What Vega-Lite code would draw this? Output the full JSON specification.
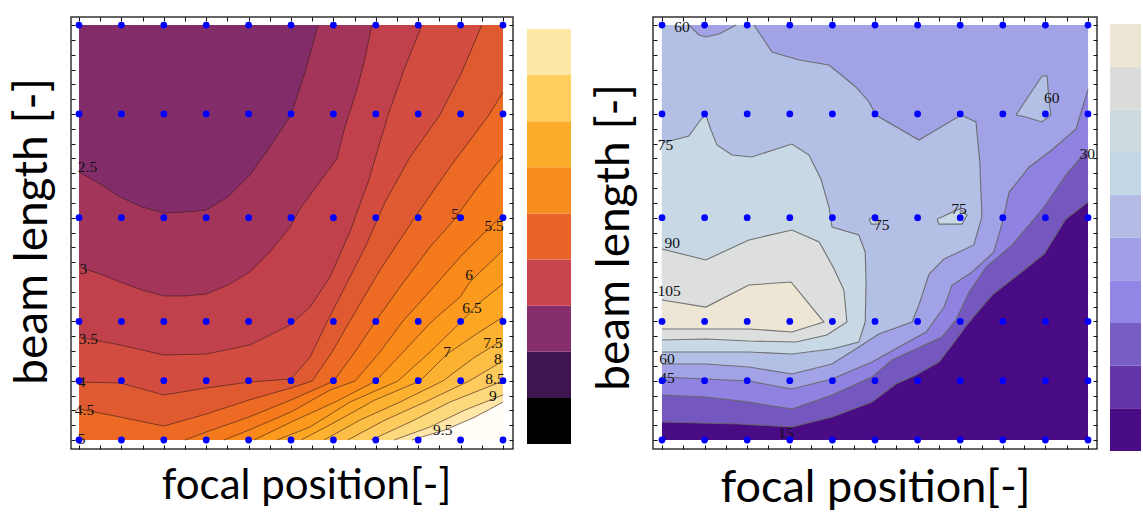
{
"$schema": "https://vega.github.io/schema/vega-lite/v6.json",
"padding": {"left": 8, "top": 15, "right": 0, "bottom": 0},
"resolve": {"scale": {"fill": "independent", "color": "independent"}},
"config": {
  "view": {"stroke": "#333", "strokeWidth": 1.5},
  "axis": {"domain": false, "labels": false, "grid": false, "ticks": true, "tickColor": "#111", "tickSize": 4, "tickWidth": 1, "offset": -4, "minExtent": 0, "maxExtent": 4, "titleFont": "Lato", "titleFontSize": 44, "titleFontWeight": "normal", "titleColor": "#000"}
},
"datasets": {
  "dots": [
    {"x":0,"y":0},{"x":1,"y":0},{"x":2,"y":0},{"x":3,"y":0},{"x":4,"y":0},{"x":5,"y":0},{"x":6,"y":0},{"x":7,"y":0},{"x":8,"y":0},{"x":9,"y":0},{"x":10,"y":0},
    {"x":0,"y":4},{"x":1,"y":4},{"x":2,"y":4},{"x":3,"y":4},{"x":4,"y":4},{"x":5,"y":4},{"x":6,"y":4},{"x":7,"y":4},{"x":8,"y":4},{"x":9,"y":4},{"x":10,"y":4},
    {"x":0,"y":8},{"x":1,"y":8},{"x":2,"y":8},{"x":3,"y":8},{"x":4,"y":8},{"x":5,"y":8},{"x":6,"y":8},{"x":7,"y":8},{"x":8,"y":8},{"x":9,"y":8},{"x":10,"y":8},
    {"x":0,"y":15},{"x":1,"y":15},{"x":2,"y":15},{"x":3,"y":15},{"x":4,"y":15},{"x":5,"y":15},{"x":6,"y":15},{"x":7,"y":15},{"x":8,"y":15},{"x":9,"y":15},{"x":10,"y":15},
    {"x":0,"y":22},{"x":1,"y":22},{"x":2,"y":22},{"x":3,"y":22},{"x":4,"y":22},{"x":5,"y":22},{"x":6,"y":22},{"x":7,"y":22},{"x":8,"y":22},{"x":9,"y":22},{"x":10,"y":22},
    {"x":0,"y":28},{"x":1,"y":28},{"x":2,"y":28},{"x":3,"y":28},{"x":4,"y":28},{"x":5,"y":28},{"x":6,"y":28},{"x":7,"y":28},{"x":8,"y":28},{"x":9,"y":28},{"x":10,"y":28}
  ],
  "L": [
    {"p":"L00","i":0,"x":0,"y":0},{"p":"L00","i":1,"x":10,"y":0},{"p":"L00","i":2,"x":10,"y":28},{"p":"L00","i":3,"x":0,"y":28},

    {"p":"L01","s":"L01","i":0,"x":0,"y":18.08},{"p":"L01","s":"L01","i":1,"x":0.5,"y":17.27},{"p":"L01","s":"L01","i":2,"x":0.97,"y":16.4},{"p":"L01","s":"L01","i":3,"x":1.49,"y":15.72},{"p":"L01","s":"L01","i":4,"x":2,"y":15.32},{"p":"L01","s":"L01","i":5,"x":2.5,"y":15.38},{"p":"L01","s":"L01","i":6,"x":3,"y":15.52},{"p":"L01","s":"L01","i":7,"x":3.51,"y":16.4},{"p":"L01","s":"L01","i":8,"x":4.03,"y":17.88},{"p":"L01","s":"L01","i":9,"x":4.5,"y":19.77},{"p":"L01","s":"L01","i":10,"x":5,"y":21.93},{"p":"L01","s":"L01","i":11,"x":5.33,"y":24.83},{"p":"L01","s":"L01","i":12,"x":5.64,"y":28},
    {"p":"L01","i":13,"x":10,"y":28},{"p":"L01","i":14,"x":10,"y":0},{"p":"L01","i":15,"x":0,"y":0},

    {"p":"L02","s":"L02","i":0,"x":0,"y":11.67},{"p":"L02","s":"L02","i":1,"x":0.5,"y":11.2},{"p":"L02","s":"L02","i":2,"x":0.97,"y":10.66},{"p":"L02","s":"L02","i":3,"x":1.49,"y":10.12},{"p":"L02","s":"L02","i":4,"x":2,"y":9.72},{"p":"L02","s":"L02","i":5,"x":2.5,"y":9.72},{"p":"L02","s":"L02","i":6,"x":3,"y":9.85},{"p":"L02","s":"L02","i":7,"x":3.51,"y":10.46},{"p":"L02","s":"L02","i":8,"x":4.03,"y":11.34},{"p":"L02","s":"L02","i":9,"x":4.5,"y":12.69},{"p":"L02","s":"L02","i":10,"x":4.98,"y":14.37},{"p":"L02","s":"L02","i":11,"x":5.21,"y":15.59},{"p":"L02","s":"L02","i":12,"x":5.64,"y":17.27},{"p":"L02","s":"L02","i":13,"x":6.08,"y":18.96},{"p":"L02","s":"L02","i":14,"x":6.27,"y":21.12},{"p":"L02","s":"L02","i":15,"x":6.56,"y":23.68},{"p":"L02","s":"L02","i":16,"x":6.75,"y":25.84},{"p":"L02","s":"L02","i":17,"x":6.91,"y":28},
    {"p":"L02","i":18,"x":10,"y":28},{"p":"L02","i":19,"x":10,"y":0},{"p":"L02","i":20,"x":0,"y":0},

    {"p":"L03","s":"L03","i":0,"x":0,"y":6.95},{"p":"L03","s":"L03","i":1,"x":0.97,"y":6.41},{"p":"L03","s":"L03","i":2,"x":2,"y":5.74},{"p":"L03","s":"L03","i":3,"x":3,"y":5.8},{"p":"L03","s":"L03","i":4,"x":4.03,"y":6.41},{"p":"L03","s":"L03","i":5,"x":4.98,"y":7.76},{"p":"L03","s":"L03","i":6,"x":5.45,"y":8.97},{"p":"L03","s":"L03","i":7,"x":5.92,"y":11},{"p":"L03","s":"L03","i":8,"x":6.39,"y":14.04},{"p":"L03","s":"L03","i":9,"x":6.82,"y":17.41},{"p":"L03","s":"L03","i":10,"x":7.29,"y":21.93},{"p":"L03","s":"L03","i":11,"x":7.69,"y":25.17},{"p":"L03","s":"L03","i":12,"x":8.09,"y":28},
    {"p":"L03","i":13,"x":10,"y":28},{"p":"L03","i":14,"x":10,"y":0},{"p":"L03","i":15,"x":0,"y":0},

    {"p":"L04","s":"L04","i":0,"x":0,"y":3.91},{"p":"L04","s":"L04","i":1,"x":0.97,"y":3.85},{"p":"L04","s":"L04","i":2,"x":2,"y":3.04},{"p":"L04","s":"L04","i":3,"x":3,"y":3.51},{"p":"L04","s":"L04","i":4,"x":4.01,"y":3.91},{"p":"L04","s":"L04","i":5,"x":5,"y":4.12},{"p":"L04","s":"L04","i":6,"x":5.45,"y":5.6},{"p":"L04","s":"L04","i":7,"x":5.85,"y":7.96},{"p":"L04","s":"L04","i":8,"x":6.27,"y":10.32},{"p":"L04","s":"L04","i":9,"x":6.75,"y":13.02},{"p":"L04","s":"L04","i":10,"x":7.22,"y":16.06},{"p":"L04","s":"L04","i":11,"x":7.81,"y":19.1},{"p":"L04","s":"L04","i":12,"x":8.51,"y":21.93},{"p":"L04","s":"L04","i":13,"x":9.03,"y":24.83},{"p":"L04","s":"L04","i":14,"x":9.5,"y":28},
    {"p":"L04","i":15,"x":10,"y":28},{"p":"L04","i":16,"x":10,"y":0},{"p":"L04","i":17,"x":0,"y":0},

    {"p":"L05","s":"L05","i":0,"x":0,"y":2.09},{"p":"L05","s":"L05","i":1,"x":0.97,"y":1.55},{"p":"L05","s":"L05","i":2,"x":2,"y":0.94},{"p":"L05","s":"L05","i":3,"x":3,"y":1.75},{"p":"L05","s":"L05","i":4,"x":4.01,"y":2.7},{"p":"L05","s":"L05","i":5,"x":5,"y":3.51},{"p":"L05","s":"L05","i":6,"x":5.5,"y":3.98},{"p":"L05","s":"L05","i":7,"x":5.97,"y":5.94},{"p":"L05","s":"L05","i":8,"x":6.39,"y":8.03},{"p":"L05","s":"L05","i":9,"x":7.1,"y":11.47},{"p":"L05","s":"L05","i":10,"x":7.88,"y":14.84},{"p":"L05","s":"L05","i":11,"x":8.75,"y":18.42},{"p":"L05","s":"L05","i":12,"x":9.67,"y":21.93},{"p":"L05","s":"L05","i":13,"x":10,"y":23.48},
    {"p":"L05","i":14,"x":10,"y":0},{"p":"L05","i":15,"x":0,"y":0},

    {"p":"L06","s":"L06","i":0,"x":2.5,"y":0},{"p":"L06","s":"L06","i":1,"x":3,"y":0.54},{"p":"L06","s":"L06","i":2,"x":4.01,"y":1.55},{"p":"L06","s":"L06","i":3,"x":5,"y":2.7},{"p":"L06","s":"L06","i":4,"x":6.01,"y":3.98},{"p":"L06","s":"L06","i":5,"x":6.51,"y":5.94},{"p":"L06","s":"L06","i":6,"x":7,"y":8.03},{"p":"L06","s":"L06","i":7,"x":7.57,"y":10.32},{"p":"L06","s":"L06","i":8,"x":8.28,"y":13.02},{"p":"L06","s":"L06","i":9,"x":8.84,"y":14.84},{"p":"L06","s":"L06","i":10,"x":9.41,"y":17.07},{"p":"L06","s":"L06","i":11,"x":10,"y":19.16},
    {"p":"L06","i":12,"x":10,"y":0},

    {"p":"L07","s":"L07","i":0,"x":3.42,"y":0},{"p":"L07","s":"L07","i":1,"x":4.01,"y":0.67},{"p":"L07","s":"L07","i":2,"x":5,"y":1.89},{"p":"L07","s":"L07","i":3,"x":5.92,"y":3.37},{"p":"L07","s":"L07","i":4,"x":6.51,"y":3.98},{"p":"L07","s":"L07","i":5,"x":7.1,"y":5.94},{"p":"L07","s":"L07","i":6,"x":7.64,"y":8.03},{"p":"L07","s":"L07","i":7,"x":8.28,"y":10.05},{"p":"L07","s":"L07","i":8,"x":8.99,"y":12.35},{"p":"L07","s":"L07","i":9,"x":9.58,"y":14.04},{"p":"L07","s":"L07","i":10,"x":10,"y":15.18},
    {"p":"L07","i":11,"x":10,"y":0},

    {"p":"L08","s":"L08","i":0,"x":4.13,"y":0},{"p":"L08","s":"L08","i":1,"x":5,"y":1.21},{"p":"L08","s":"L08","i":2,"x":6.04,"y":2.56},{"p":"L08","s":"L08","i":3,"x":7,"y":3.98},{"p":"L08","s":"L08","i":4,"x":7.69,"y":6.07},{"p":"L08","s":"L08","i":5,"x":8.33,"y":8.03},{"p":"L08","s":"L08","i":6,"x":8.99,"y":9.65},{"p":"L08","s":"L08","i":7,"x":9.22,"y":10.66},{"p":"L08","s":"L08","i":8,"x":10,"y":12.82},
    {"p":"L08","i":9,"x":10,"y":0},

    {"p":"L09","s":"L09","i":0,"x":4.67,"y":0},{"p":"L09","s":"L09","i":1,"x":5.45,"y":0.88},{"p":"L09","s":"L09","i":2,"x":6.39,"y":2.56},{"p":"L09","s":"L09","i":3,"x":7.52,"y":3.98},{"p":"L09","s":"L09","i":4,"x":8.28,"y":5.94},{"p":"L09","s":"L09","i":5,"x":9.03,"y":8.03},{"p":"L09","s":"L09","i":6,"x":9.46,"y":9.31},{"p":"L09","s":"L09","i":7,"x":10,"y":10.53},
    {"p":"L09","i":8,"x":10,"y":0},

    {"p":"L10","s":"L10","i":0,"x":5.24,"y":0},{"p":"L10","s":"L10","i":1,"x":6.04,"y":1.21},{"p":"L10","s":"L10","i":2,"x":6.98,"y":2.7},{"p":"L10","s":"L10","i":3,"x":8.04,"y":3.98},{"p":"L10","s":"L10","i":4,"x":8.68,"y":5.8},{"p":"L10","s":"L10","i":5,"x":9.34,"y":7.09},{"p":"L10","s":"L10","i":6,"x":10,"y":8.3},
    {"p":"L10","i":7,"x":10,"y":0},

    {"p":"L11","s":"L11","i":0,"x":5.78,"y":0},{"p":"L11","s":"L11","i":1,"x":6.63,"y":1.35},{"p":"L11","s":"L11","i":2,"x":7.57,"y":2.56},{"p":"L11","s":"L11","i":3,"x":8.58,"y":3.98},{"p":"L11","s":"L11","i":4,"x":9.34,"y":5.6},{"p":"L11","s":"L11","i":5,"x":10,"y":6.75},
    {"p":"L11","i":6,"x":10,"y":0},

    {"p":"L12","s":"L12","i":0,"x":6.34,"y":0},{"p":"L12","s":"L12","i":1,"x":7.22,"y":1.35},{"p":"L12","s":"L12","i":2,"x":8.16,"y":2.56},{"p":"L12","s":"L12","i":3,"x":9.2,"y":3.98},{"p":"L12","s":"L12","i":4,"x":10,"y":5.33},
    {"p":"L12","i":5,"x":10,"y":0},

    {"p":"L13","s":"L13","i":0,"x":6.89,"y":0},{"p":"L13","s":"L13","i":1,"x":7.81,"y":1.21},{"p":"L13","s":"L13","i":2,"x":8.75,"y":2.56},{"p":"L13","s":"L13","i":3,"x":9.46,"y":3.37},{"p":"L13","s":"L13","i":4,"x":10,"y":3.98},
    {"p":"L13","i":5,"x":10,"y":0},

    {"p":"L14","s":"L14","i":0,"x":7.43,"y":0},{"p":"L14","s":"L14","i":1,"x":8.28,"y":0.88},{"p":"L14","s":"L14","i":2,"x":9.1,"y":2.02},{"p":"L14","s":"L14","i":3,"x":10,"y":3.04},
    {"p":"L14","i":4,"x":10,"y":0},

    {"p":"L15","s":"L15","i":0,"x":7.85,"y":0},{"p":"L15","s":"L15","i":1,"x":8.63,"y":0.67},{"p":"L15","s":"L15","i":2,"x":9.34,"y":1.55},{"p":"L15","s":"L15","i":3,"x":10,"y":2.56},
    {"p":"L15","i":4,"x":10,"y":0}
  ],
  "R": [
    {"p":"R00","i":0,"x":0,"y":0},{"p":"R00","i":1,"x":10,"y":0},{"p":"R00","i":2,"x":10,"y":28},{"p":"R00","i":3,"x":0,"y":28},

    {"p":"R01","i":0,"x":0,"y":28},{"p":"R01","i":1,"x":10,"y":28},
    {"p":"R01","s":"R01","i":2,"x":10,"y":16.06},{"p":"R01","s":"R01","i":3,"x":9.48,"y":14.91},{"p":"R01","s":"R01","i":4,"x":8.97,"y":12.55},{"p":"R01","s":"R01","i":5,"x":8.38,"y":11.2},{"p":"R01","s":"R01","i":6,"x":7.75,"y":9.78},{"p":"R01","s":"R01","i":7,"x":7.21,"y":7.96},{"p":"R01","s":"R01","i":8,"x":6.81,"y":6.41},{"p":"R01","s":"R01","i":9,"x":6.5,"y":5.26},{"p":"R01","s":"R01","i":10,"x":5.96,"y":4.39},{"p":"R01","s":"R01","i":11,"x":5.49,"y":3.78},{"p":"R01","s":"R01","i":12,"x":4.93,"y":2.56},{"p":"R01","s":"R01","i":13,"x":3.99,"y":1.55},{"p":"R01","s":"R01","i":14,"x":3.05,"y":0.88},{"p":"R01","s":"R01","i":15,"x":1.81,"y":1.08},{"p":"R01","s":"R01","i":16,"x":0,"y":1.21},

    {"p":"R02","i":0,"x":0,"y":28},{"p":"R02","i":1,"x":10,"y":28},
    {"p":"R02","s":"R02","i":2,"x":10,"y":19.64},{"p":"R02","s":"R02","i":3,"x":9.48,"y":17.88},{"p":"R02","s":"R02","i":4,"x":8.97,"y":15.72},{"p":"R02","s":"R02","i":5,"x":8.22,"y":13.16},{"p":"R02","s":"R02","i":6,"x":7.61,"y":11.67},{"p":"R02","s":"R02","i":7,"x":7.21,"y":9.99},{"p":"R02","s":"R02","i":8,"x":6.9,"y":8.1},{"p":"R02","s":"R02","i":9,"x":6.57,"y":6.95},{"p":"R02","s":"R02","i":10,"x":5.96,"y":6.14},{"p":"R02","s":"R02","i":11,"x":5.4,"y":5.4},{"p":"R02","s":"R02","i":12,"x":4.93,"y":4.25},{"p":"R02","s":"R02","i":13,"x":3.99,"y":3.04},{"p":"R02","s":"R02","i":14,"x":3.05,"y":2.09},{"p":"R02","s":"R02","i":15,"x":2.04,"y":2.56},{"p":"R02","s":"R02","i":16,"x":1.03,"y":2.9},{"p":"R02","s":"R02","i":17,"x":0,"y":3.04},

    {"p":"R03","i":0,"x":0,"y":28},{"p":"R03","i":1,"x":10,"y":28},
    {"p":"R03","s":"R03","i":2,"x":10,"y":23.68},{"p":"R03","s":"R03","i":3,"x":9.72,"y":20.99},{"p":"R03","s":"R03","i":4,"x":9.15,"y":19.57},{"p":"R03","s":"R03","i":5,"x":8.62,"y":18.42},{"p":"R03","s":"R03","i":6,"x":8.15,"y":16.73},{"p":"R03","s":"R03","i":7,"x":7.98,"y":14.57},{"p":"R03","s":"R03","i":8,"x":7.79,"y":12.69},{"p":"R03","s":"R03","i":9,"x":7.28,"y":11.34},{"p":"R03","s":"R03","i":10,"x":6.81,"y":10.46},{"p":"R03","s":"R03","i":11,"x":6.62,"y":8.97},{"p":"R03","s":"R03","i":12,"x":6.2,"y":7.29},{"p":"R03","s":"R03","i":13,"x":5.56,"y":6.28},{"p":"R03","s":"R03","i":14,"x":4.93,"y":5.26},{"p":"R03","s":"R03","i":15,"x":3.99,"y":4.12},{"p":"R03","s":"R03","i":16,"x":3.05,"y":3.44},{"p":"R03","s":"R03","i":17,"x":2.04,"y":3.98},{"p":"R03","s":"R03","i":18,"x":1.03,"y":4.12},{"p":"R03","s":"R03","i":19,"x":0,"y":4.25},

    {"p":"R04","i":0,"x":0,"y":28},
    {"p":"R04","s":"R04a","i":1,"x":0.63,"y":28},{"p":"R04","s":"R04a","i":2,"x":0.87,"y":27.33},{"p":"R04","s":"R04a","i":3,"x":1.03,"y":27.19},{"p":"R04","s":"R04a","i":4,"x":1.34,"y":27.4},{"p":"R04","s":"R04a","i":5,"x":1.74,"y":28},
    {"p":"R04","s":"R04b","i":6,"x":2.16,"y":28},{"p":"R04","s":"R04b","i":7,"x":2.58,"y":26.18},{"p":"R04","s":"R04b","i":8,"x":3.22,"y":25.64},{"p":"R04","s":"R04b","i":9,"x":3.92,"y":25.3},{"p":"R04","s":"R04b","i":10,"x":4.55,"y":23.82},{"p":"R04","s":"R04b","i":11,"x":4.86,"y":22.81},{"p":"R04","s":"R04b","i":12,"x":5.02,"y":21.93},{"p":"R04","s":"R04b","i":13,"x":6.03,"y":20.24},{"p":"R04","s":"R04b","i":14,"x":7.02,"y":21.93},{"p":"R04","s":"R04b","i":15,"x":7.37,"y":21.46},{"p":"R04","s":"R04b","i":16,"x":7.46,"y":18.76},{"p":"R04","s":"R04b","i":17,"x":7.51,"y":15.05},{"p":"R04","s":"R04b","i":18,"x":7.32,"y":13.16},{"p":"R04","s":"R04b","i":19,"x":6.62,"y":12.21},{"p":"R04","s":"R04b","i":20,"x":6.27,"y":11.2},{"p":"R04","s":"R04b","i":21,"x":6.03,"y":9.11},{"p":"R04","s":"R04b","i":22,"x":5.87,"y":7.96},{"p":"R04","s":"R04b","i":23,"x":5.09,"y":7.15},{"p":"R04","s":"R04b","i":24,"x":4.62,"y":6.28},{"p":"R04","s":"R04b","i":25,"x":3.99,"y":5.13},{"p":"R04","s":"R04b","i":26,"x":3.05,"y":4.45},{"p":"R04","s":"R04b","i":27,"x":2.04,"y":4.93},{"p":"R04","s":"R04b","i":28,"x":1.03,"y":5.13},{"p":"R04","s":"R04b","i":29,"x":0,"y":5.13},

    {"p":"R05","s":"R05","i":0,"x":8.31,"y":21.93},{"p":"R05","s":"R05","i":1,"x":8.92,"y":24.56},{"p":"R05","s":"R05","i":2,"x":9.04,"y":24.56},{"p":"R05","s":"R05","i":3,"x":9.08,"y":22.94},{"p":"R05","s":"R05","i":4,"x":9.13,"y":21.93},{"p":"R05","s":"R05","i":5,"x":8.92,"y":21.46},{"p":"R05","s":"R05","i":6,"x":8.54,"y":21.79},{"p":"R05","s":"R05","i":7,"x":8.31,"y":21.93},

    {"p":"R06","s":"R06","i":0,"x":0,"y":20.04},{"p":"R06","s":"R06","i":1,"x":0.63,"y":20.51},{"p":"R06","s":"R06","i":2,"x":0.92,"y":21.66},{"p":"R06","s":"R06","i":3,"x":1.03,"y":21.93},{"p":"R06","s":"R06","i":4,"x":1.15,"y":20.92},{"p":"R06","s":"R06","i":5,"x":1.29,"y":19.91},{"p":"R06","s":"R06","i":6,"x":1.64,"y":19.23},{"p":"R06","s":"R06","i":7,"x":2.11,"y":19.1},{"p":"R06","s":"R06","i":8,"x":3.05,"y":19.97},{"p":"R06","s":"R06","i":9,"x":3.45,"y":19.23},{"p":"R06","s":"R06","i":10,"x":3.73,"y":17.61},{"p":"R06","s":"R06","i":11,"x":3.92,"y":15.72},{"p":"R06","s":"R06","i":12,"x":3.99,"y":14.37},{"p":"R06","s":"R06","i":13,"x":4.62,"y":13.83},{"p":"R06","s":"R06","i":14,"x":4.77,"y":12.69},{"p":"R06","s":"R06","i":15,"x":4.79,"y":10.66},{"p":"R06","s":"R06","i":16,"x":4.77,"y":7.96},{"p":"R06","s":"R06","i":17,"x":4.62,"y":6.61},{"p":"R06","s":"R06","i":18,"x":3.99,"y":6.14},{"p":"R06","s":"R06","i":19,"x":3.05,"y":5.8},{"p":"R06","s":"R06","i":20,"x":2.04,"y":5.94},{"p":"R06","s":"R06","i":21,"x":1.03,"y":5.94},{"p":"R06","s":"R06","i":22,"x":0,"y":5.94},

    {"p":"R07","s":"R07","i":0,"x":6.46,"y":14.91},{"p":"R07","s":"R07","i":1,"x":6.57,"y":15.05},{"p":"R07","s":"R07","i":2,"x":6.97,"y":15.59},{"p":"R07","s":"R07","i":3,"x":7.16,"y":15.18},{"p":"R07","s":"R07","i":4,"x":7.04,"y":14.57},{"p":"R07","s":"R07","i":5,"x":6.5,"y":14.57},{"p":"R07","s":"R07","i":6,"x":6.46,"y":14.91},

    {"p":"R08","s":"R08","i":0,"x":4.86,"y":14.91},{"p":"R08","s":"R08","i":1,"x":5.05,"y":15.11},{"p":"R08","s":"R08","i":2,"x":5.09,"y":14.57},{"p":"R08","s":"R08","i":3,"x":4.91,"y":14.57},{"p":"R08","s":"R08","i":4,"x":4.86,"y":14.91},

    {"p":"R09","s":"R09","i":0,"x":0,"y":12.89},{"p":"R09","s":"R09","i":1,"x":1.03,"y":12.15},{"p":"R09","s":"R09","i":2,"x":2.04,"y":13.5},{"p":"R09","s":"R09","i":3,"x":3.05,"y":14.17},{"p":"R09","s":"R09","i":4,"x":3.69,"y":13.36},{"p":"R09","s":"R09","i":5,"x":4.04,"y":11.54},{"p":"R09","s":"R09","i":6,"x":4.27,"y":10.12},{"p":"R09","s":"R09","i":7,"x":4.34,"y":7.96},{"p":"R09","s":"R09","i":8,"x":3.87,"y":7.09},{"p":"R09","s":"R09","i":9,"x":3.15,"y":6.61},{"p":"R09","s":"R09","i":10,"x":2.04,"y":6.68},{"p":"R09","s":"R09","i":11,"x":1.03,"y":6.82},{"p":"R09","s":"R09","i":12,"x":0,"y":6.75},

    {"p":"R10","s":"R10","i":0,"x":0,"y":9.45},{"p":"R10","s":"R10","i":1,"x":1.03,"y":8.97},{"p":"R10","s":"R10","i":2,"x":2.04,"y":10.46},{"p":"R10","s":"R10","i":3,"x":3.03,"y":10.66},{"p":"R10","s":"R10","i":4,"x":3.8,"y":7.96},{"p":"R10","s":"R10","i":5,"x":3.05,"y":7.29},{"p":"R10","s":"R10","i":6,"x":2.04,"y":7.49},{"p":"R10","s":"R10","i":7,"x":1.03,"y":7.49},{"p":"R10","s":"R10","i":8,"x":0,"y":7.49}
  ],
  "labL": [
    {"t":"2.5","x":0.2,"y":18.42},{"t":"3","x":0.1,"y":11.54},{"t":"3.5","x":0.22,"y":6.82},{"t":"4","x":0.06,"y":3.91},{"t":"4.5","x":0.13,"y":2.02},{"t":"5","x":0.06,"y":0.07},
    {"t":"5","x":8.87,"y":15.25},{"t":"5.5","x":9.79,"y":14.44},{"t":"6","x":9.2,"y":11.13},{"t":"6.5","x":9.27,"y":8.91},{"t":"7","x":8.68,"y":5.94},{"t":"7.5","x":9.76,"y":6.55},{"t":"8","x":9.88,"y":5.47},{"t":"8.5","x":9.81,"y":4.1},{"t":"9","x":9.76,"y":2.95},{"t":"9.5","x":8.58,"y":0.67}
  ],
  "labR": [
    {"t":"60","x":0.47,"y":27.87},{"t":"75","x":0.08,"y":19.91},{"t":"90","x":0.24,"y":13.29},{"t":"105","x":0.17,"y":10.05},{"t":"60","x":0.12,"y":5.45},{"t":"45","x":0.12,"y":4.2},{"t":"15","x":2.91,"y":0.47},
    {"t":"75","x":5.16,"y":14.51},{"t":"75","x":6.97,"y":15.59},{"t":"60","x":9.15,"y":23.08},{"t":"30","x":9.98,"y":19.3}
  ],
  "barL": [
    {"k":0,"k1":1},{"k":1,"k1":2},{"k":2,"k1":3},{"k":3,"k1":4},{"k":4,"k1":5},{"k":5,"k1":6},{"k":6,"k1":7},{"k":7,"k1":8},{"k":8,"k1":9}
  ],
  "barR": [
    {"k":0,"k1":1},{"k":1,"k1":2},{"k":2,"k1":3},{"k":3,"k1":4},{"k":4,"k1":5},{"k":5,"k1":6},{"k":6,"k1":7},{"k":7,"k1":8},{"k":8,"k1":9},{"k":9,"k1":10}
  ]
},
"hconcat": [
  {
    "spacing": 12,
    "resolve": {"scale": {"fill": "independent", "color": "independent"}},
    "hconcat": [
      {
        "width": 442, "height": 432,
        "resolve": {"axis": {"x": "independent", "y": "independent"}},
        "layer": [
          {
            "data": {"name": "L"},
            "mark": {"type": "line", "strokeWidth": 0, "strokeOpacity": 0},
            "encoding": {
              "x": {"field": "x", "type": "quantitative", "scale": {"domain": [-0.189, 10.236], "nice": false, "zero": false},
                    "axis": {"orient": "bottom", "title": "focal position[-]", "titlePadding": 16, "titleFontSize": 42, "titleX": 235, "values": [0,0.5,1,1.5,2,2.5,3,3.5,4,4.5,5,5.5,6,6.5,7,7.5,8,8.5,9,9.5,10]}},
              "y": {"field": "y", "type": "quantitative", "scale": {"domain": [-0.607, 28.543], "nice": false, "zero": false},
                    "axis": {"orient": "left", "title": "beam length [-]", "titlePadding": 15, "titleFontSize": 46, "titleY": 214, "values": [0,1,2,3,4,5,6,7,8,9,10,11,12,13,14,15,16,17,18,19,20,21,22,23,24,25,26,27,28]}},
              "fill": {"field": "p", "type": "nominal", "legend": null,
                       "scale": {"domain": ["L00","L01","L02","L03","L04","L05","L06","L07","L08","L09","L10","L11","L12","L13","L14","L15"],
                                 "range": ["#832C6A","#A3355A","#C0404C","#D24D40","#E05A31","#EC6A24","#F47A1C","#F98A1A","#FB9A1D","#FCA623","#FCB131","#FDBE45","#FDCB5E","#FDD97E","#FEE7A8","#FFFDF6"]}},
              "order": {"field": "i", "type": "quantitative"}
            }
          },
          {
            "data": {"name": "L"},
            "transform": [{"filter": "datum.s"}],
            "mark": {"type": "line", "stroke": "#3a1a1a", "strokeOpacity": 0.6, "strokeWidth": 1},
            "encoding": {
              "x": {"field": "x", "type": "quantitative", "axis": {"orient": "top", "title": null, "values": [0,0.5,1,1.5,2,2.5,3,3.5,4,4.5,5,5.5,6,6.5,7,7.5,8,8.5,9,9.5,10]}},
              "y": {"field": "y", "type": "quantitative", "axis": {"orient": "right", "title": null, "values": [0,1,2,3,4,5,6,7,8,9,10,11,12,13,14,15,16,17,18,19,20,21,22,23,24,25,26,27,28]}},
              "detail": {"field": "s"},
              "order": {"field": "i", "type": "quantitative"}
            }
          },
          {
            "data": {"name": "labL"},
            "mark": {"type": "text", "font": "Liberation Serif", "fontSize": 15.5, "color": "#111", "align": "center", "baseline": "middle"},
            "encoding": {
              "x": {"field": "x", "type": "quantitative", "axis": null},
              "y": {"field": "y", "type": "quantitative", "axis": null},
              "text": {"field": "t"}
            }
          },
          {
            "data": {"name": "dots"},
            "mark": {"type": "circle", "size": 46, "color": "#0000FF", "opacity": 1},
            "encoding": {
              "x": {"field": "x", "type": "quantitative", "axis": null},
              "y": {"field": "y", "type": "quantitative", "axis": null}
            }
          }
        ]
      },
      {
        "width": 44, "height": 432,
        "view": {"stroke": null},
        "data": {"name": "barL"},
        "mark": {"type": "rect"},
        "encoding": {
          "y": {"field": "k", "type": "quantitative", "scale": {"domain": [-0.108, 9.26], "nice": false, "zero": false}, "axis": null},
          "y2": {"field": "k1"},
          "color": {"field": "k", "type": "ordinal", "legend": null,
                    "scale": {"range": ["#000000","#3D1650","#862D6B","#C8434A","#E8642A","#F98C1E","#FCAE2A","#FECE5E","#FEE8A6"]}}
        }
      }
    ]
  },
  {
    "spacing": 11,
    "resolve": {"scale": {"fill": "independent", "color": "independent"}},
    "hconcat": [
      {
        "width": 444, "height": 432,
        "resolve": {"axis": {"x": "independent", "y": "independent"}},
        "layer": [
          {
            "data": {"name": "R"},
            "mark": {"type": "line", "strokeWidth": 0, "strokeOpacity": 0},
            "encoding": {
              "x": {"field": "x", "type": "quantitative", "scale": {"domain": [-0.211, 10.211], "nice": false, "zero": false},
                    "axis": {"orient": "bottom", "title": "focal position[-]", "titlePadding": 16, "titleFontSize": 45, "values": [0,0.5,1,1.5,2,2.5,3,3.5,4,4.5,5,5.5,6,6.5,7,7.5,8,8.5,9,9.5,10]}},
              "y": {"field": "y", "type": "quantitative", "scale": {"domain": [-0.607, 28.543], "nice": false, "zero": false},
                    "axis": {"orient": "left", "title": "beam length [-]", "titlePadding": 15, "titleFontSize": 46, "titleY": 220, "values": [0,1,2,3,4,5,6,7,8,9,10,11,12,13,14,15,16,17,18,19,20,21,22,23,24,25,26,27,28]}},
              "fill": {"field": "p", "type": "nominal", "legend": null,
                       "scale": {"domain": ["R00","R01","R02","R03","R04","R05","R06","R07","R08","R09","R10"],
                                 "range": ["#4A0C84","#7557C0","#8F82E0","#A2A3E6","#B4BFE6","#B4BFE6","#C8D9E5","#C8D9E5","#C8D9E5","#DCDFDD","#EEE6D4"]}},
              "order": {"field": "i", "type": "quantitative"}
            }
          },
          {
            "data": {"name": "R"},
            "transform": [{"filter": "datum.s"}],
            "mark": {"type": "line", "stroke": "#666666", "strokeOpacity": 0.9, "strokeWidth": 1.1},
            "encoding": {
              "x": {"field": "x", "type": "quantitative", "axis": {"orient": "top", "title": null, "values": [0,0.5,1,1.5,2,2.5,3,3.5,4,4.5,5,5.5,6,6.5,7,7.5,8,8.5,9,9.5,10]}},
              "y": {"field": "y", "type": "quantitative", "axis": {"orient": "right", "title": null, "values": [0,1,2,3,4,5,6,7,8,9,10,11,12,13,14,15,16,17,18,19,20,21,22,23,24,25,26,27,28]}},
              "detail": {"field": "s"},
              "order": {"field": "i", "type": "quantitative"}
            }
          },
          {
            "data": {"name": "labR"},
            "mark": {"type": "text", "font": "Liberation Serif", "fontSize": 15.5, "color": "#111", "align": "center", "baseline": "middle"},
            "encoding": {
              "x": {"field": "x", "type": "quantitative", "axis": null},
              "y": {"field": "y", "type": "quantitative", "axis": null},
              "text": {"field": "t"}
            }
          },
          {
            "data": {"name": "dots"},
            "mark": {"type": "circle", "size": 46, "color": "#0000FF", "opacity": 1},
            "encoding": {
              "x": {"field": "x", "type": "quantitative", "axis": null},
              "y": {"field": "y", "type": "quantitative", "axis": null}
            }
          }
        ]
      },
      {
        "width": 31, "height": 434,
        "view": {"stroke": null},
        "data": {"name": "barR"},
        "mark": {"type": "rect"},
        "encoding": {
          "y": {"field": "k", "type": "quantitative", "scale": {"domain": [0, 10.164], "nice": false, "zero": false}, "axis": null},
          "y2": {"field": "k1"},
          "color": {"field": "k", "type": "ordinal", "legend": null,
                    "scale": {"range": ["#4A0C84","#6435A6","#775DC4","#9286E6","#A29FE6","#B4BCE6","#C2D7E6","#CDDAE0","#DCDDDA","#EEE6D4"]}}
        }
      }
    ]
  }
],
"spacing": 19
}
